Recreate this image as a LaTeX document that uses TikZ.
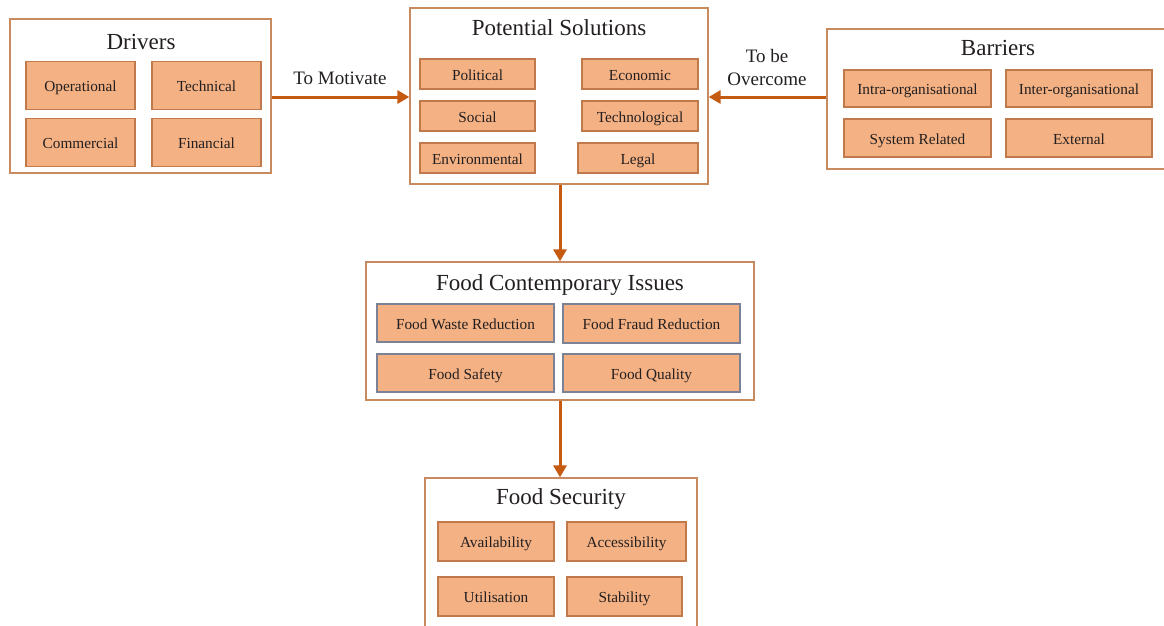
\documentclass[tikz,border=0pt]{standalone}
\usepackage{fontspec}
\setmainfont{Liberation Serif}
\usetikzlibrary{arrows.meta}

\definecolor{itemfill}{HTML}{F4B183}
\definecolor{itemline}{HTML}{C0794A}
\definecolor{itemlineb}{HTML}{7C8296}
\definecolor{frameline}{HTML}{C98A5E}
\definecolor{arrowcol}{HTML}{C55A11}
\definecolor{txt}{HTML}{231F20}

\tikzset{
  frame/.style={draw=frameline, line width=1.3pt, fill=white, inner sep=0pt},
  title/.style={font=\fontsize{23}{27}\selectfont, text=txt, inner sep=0pt,
    text height=18pt, text depth=3pt},
  item/.style={draw=itemline, line width=1.2pt, fill=itemfill, inner sep=0pt,
    font=\fontsize{15.3}{18}\selectfont, text=txt,
    text height=14pt, text depth=1.5pt},
  itemb/.style={item, draw=itemlineb},
  link/.style={draw=arrowcol, line width=3pt,
    -{Triangle[length=12pt,width=13pt]}},
  lbl/.style={font=\fontsize{19}{23}\selectfont, text=txt, align=center, inner sep=0pt}
}

\begin{document}
\begin{tikzpicture}[x=1pt,y=-1pt]
\useasboundingbox[fill=white] (0,0) rectangle (1164,625);

% outer frames
\node[frame, minimum width=261pt, minimum height=154pt] (drivers) at (140.5,96) {};
\node[frame, minimum width=298pt, minimum height=176pt] (ps) at (559,96) {};
\node[frame, minimum width=350pt, minimum height=140pt] (barriers) at (1002,99) {};
\node[frame, minimum width=388pt, minimum height=138pt] (fci) at (560,331) {};
\node[frame, minimum width=272pt, minimum height=170pt] (fs) at (561,563) {};

% frame titles
\node[title] (tdrv) at (141,42) {Drivers};
\node[title] (tps) at (559,28) {Potential Solutions};
\node[title] (tbar) at (998,48) {Barriers};
\node[title] (tfci) at (560,283) {Food Contemporary Issues};
\node[title] (tfs) at (561,497) {Food Security};

% drivers
\node[item, minimum width=109pt, minimum height=48pt] (op) at (80.5,85.5) {Operational};
\node[item, minimum width=109pt, minimum height=48pt] (tec) at (206.5,85.5) {Technical};
\node[item, minimum width=109pt, minimum height=48pt] (com) at (80.5,142.5) {Commercial};
\node[item, minimum width=109pt, minimum height=48pt] (fin) at (206.5,142.5) {Financial};

% potential solutions
\node[item, minimum width=115pt, minimum height=30pt] (pol) at (477.5,74) {Political};
\node[item, minimum width=116pt, minimum height=30pt] (eco) at (640,74) {Economic};
\node[item, minimum width=115pt, minimum height=30pt] (soc) at (477.5,116) {Social};
\node[item, minimum width=116pt, minimum height=30pt] (tlg) at (640,116) {Technological};
\node[item, minimum width=115pt, minimum height=30pt] (env) at (477.5,158) {Environmental};
\node[item, minimum width=120pt, minimum height=30pt] (leg) at (638,158) {Legal};

% barriers
\node[item, minimum width=147pt, minimum height=37pt] (intra) at (917.5,88.5) {Intra-organisational};
\node[item, minimum width=146pt, minimum height=37pt] (inter) at (1079,88.5) {Inter-organisational};
\node[item, minimum width=147pt, minimum height=38pt] (sys) at (917.5,138) {System Related};
\node[item, minimum width=146pt, minimum height=38pt] (ext) at (1079,138) {External};

% food contemporary issues
\node[itemb, minimum width=177pt, minimum height=38pt] (waste) at (465.5,323) {Food Waste Reduction};
\node[itemb, minimum width=177pt, minimum height=39pt] (fraud) at (651.5,323.5) {Food Fraud Reduction};
\node[itemb, minimum width=177pt, minimum height=38pt] (safe) at (465.5,373) {Food Safety};
\node[itemb, minimum width=177pt, minimum height=38pt] (qual) at (651.5,373) {Food Quality};

% food security
\node[item, minimum width=116pt, minimum height=39pt] (avail) at (496,541.5) {Availability};
\node[item, minimum width=119pt, minimum height=39pt] (acc) at (626.5,541.5) {Accessibility};
\node[item, minimum width=116pt, minimum height=39pt] (util) at (496,596.5) {Utilisation};
\node[item, minimum width=115pt, minimum height=39pt] (stab) at (624.5,596.5) {Stability};

% connectors
\coordinate (lrow) at (0,97);
\draw[link] (drivers.east |- lrow) -- (ps.west |- lrow);
\draw[link] (barriers.west |- lrow) -- (ps.east |- lrow);
\draw[link] (ps.south -| fci.north) -- (fci.north);
\draw[link] (fci.south) -- (fci.south |- fs.north);

% connector labels
\node[lbl] (lmot) at (340,78) {To Motivate};
\node[lbl] (lover) at (767,67) {To be\\Overcome};
\end{tikzpicture}
\end{document}
